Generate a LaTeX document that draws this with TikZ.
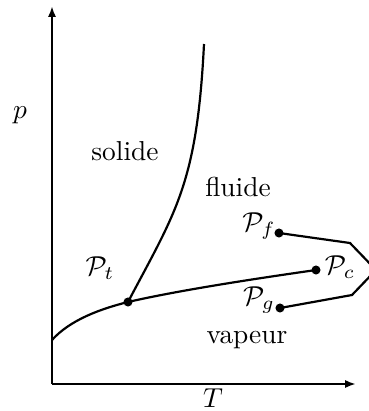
\documentclass[tikz,border=0pt]{standalone}
\usetikzlibrary{arrows.meta}
\begin{document}
\begin{tikzpicture}[x=0.365pt,y=-0.365pt,
  curve/.style={line width=0.8pt},
  axis/.style={line width=0.8pt,-{Latex[length=4pt,width=3pt]}},
  pt/.style={circle,fill=black,inner sep=0pt,minimum size=3.3pt}]
\useasboundingbox (0,0) rectangle (369,411);
\clip (0,0) rectangle (369,411);
\coordinate (O) at (52,384);
\coordinate (Ytop) at (52,6);
\coordinate (Xend) at (356,384);
\coordinate (A) at (52,340);
\coordinate (M) at (204,44);
\draw[axis] (O) -- (Ytop);
\draw[axis] (O) -- (Xend);
\node (p) at (20,115) {$p$};
\node (T) at (213,398) {$T$};
\node[pt] (Pt) at (128,302) {};
\node[pt] (Pc) at (316,270) {};
\node[pt] (Pf) at (279,233) {};
\node[pt] (Pg) at (280,308) {};
\node (Ptl) at (100,268) {$\mathcal{P}_t$};
\node (Pfl) at (259,226) {$\mathcal{P}_f$};
\node (Pcl) at (340,267) {$\mathcal{P}_c$};
\node (Pgl) at (259,300) {$\mathcal{P}_g$};
\node (sol) at (125,151) {solide};
\node (flu) at (238,187) {fluide};
\node (vap) at (247,340) {vapeur};
\draw[curve] (Pt.center) .. controls (176,211) and (197,184) .. (M);
\draw[curve] (A) .. controls (70,320) and (100,309) .. (Pt.center)
  .. controls (180,290) and (260,278) .. (Pc.center);
\draw[curve] (Pf.center) -- (350,243) -- (376,270) -- (352,295) -- (Pg.center);
\end{tikzpicture}
\end{document}
